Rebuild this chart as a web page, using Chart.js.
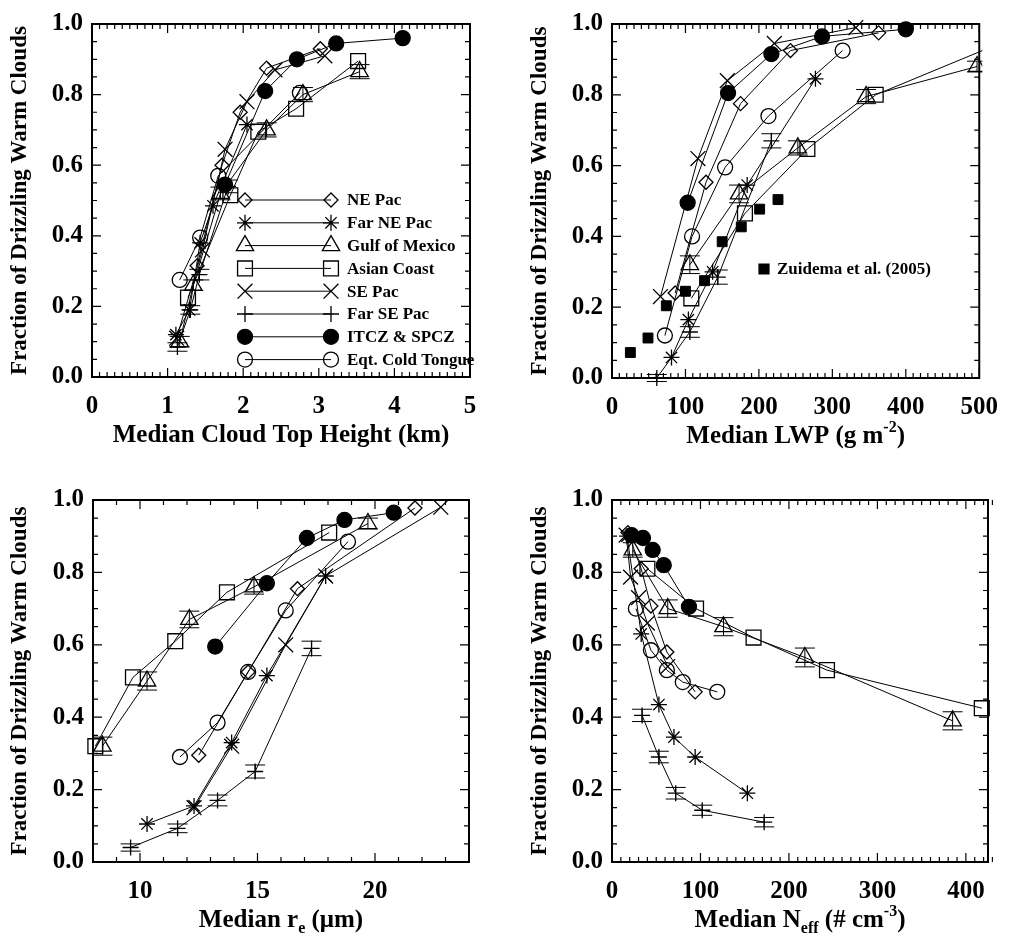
<!DOCTYPE html>
<html>
<head>
<meta charset="utf-8">
<title>Drizzle fraction vs cloud properties</title>
<script src="https://cdn.jsdelivr.net/npm/chart.js@4.4.1/dist/chart.umd.min.js"></script>
<style>
  body { margin: 0; background: #fff; }
  #wrap { position: relative; width: 1013px; height: 939px; }
  canvas { position: absolute; }
</style>
</head>
<body>
<div id="wrap">
  <canvas id="c1" width="506" height="470" style="left:0;top:0"></canvas>
  <canvas id="c2" width="493" height="470" style="left:520px;top:0"></canvas>
  <canvas id="c3" width="506" height="469" style="left:0;top:470px"></canvas>
  <canvas id="c4" width="493" height="469" style="left:520px;top:470px"></canvas>
</div>
<script>
var regions = ['NE Pac', 'Far NE Pac', 'Gulf of Mexico', 'Asian Coast', 'SE Pac', 'Far SE Pac', 'ITCZ & SPCZ', 'Eqt. Cold Tongue'];

// median cloud top height (km)
var cthX = [
  [1.39, 1.72, 1.96, 2.31, 3.02],
  [1.11, 1.29, 1.43, 1.60, 2.05],
  [1.16, 1.34, 1.70, 2.31, 2.79, 3.54],
  [1.27, 1.83, 2.20, 2.70, 3.52],
  [1.12, 1.46, 1.76, 2.05, 2.42, 3.08],
  [1.13, 1.30, 1.42, 1.80],
  [1.76, 2.29, 2.71, 3.23, 4.11],
  [1.16, 1.43, 1.67, 2.75]
];
var cthY = [
  [0.315, 0.60, 0.75, 0.875, 0.93],
  [0.12, 0.19, 0.38, 0.485, 0.715],
  [0.10, 0.26, 0.52, 0.70, 0.80, 0.865],
  [0.225, 0.515, 0.695, 0.76, 0.895],
  [0.11, 0.36, 0.645, 0.78, 0.87, 0.91],
  [0.085, 0.19, 0.29, 0.54],
  [0.545, 0.81, 0.90, 0.945, 0.96],
  [0.275, 0.395, 0.57, 0.805]
];
var cthErr = [null, null, [0.015, 0.015, 0.018, 0.02, 0.02, 0.02], null, null, [0.012, 0.012, 0.015, 0.018], null, null];

// median liquid water path (g m-2)
var lwpX = [
  [86, 128, 175, 243, 363],
  [81, 104, 137, 184, 277],
  [106, 173, 253, 346, 497],
  [108, 181, 266, 359, 580],
  [66, 117, 157, 221, 332],
  [61, 106, 144, 217],
  [103, 158, 217, 286, 400],
  [72, 109, 154, 213, 314]
];
var lwpY = [
  [0.24, 0.553, 0.775, 0.925, 0.975],
  [0.058, 0.165, 0.30, 0.545, 0.845],
  [0.32, 0.52, 0.65, 0.795, 0.88],
  [0.225, 0.465, 0.647, 0.80, 0.99],
  [0.23, 0.62, 0.84, 0.945, 0.99],
  [0.0, 0.13, 0.285, 0.67],
  [0.495, 0.805, 0.915, 0.965, 0.985],
  [0.12, 0.40, 0.595, 0.74, 0.925]
];
var lwpErr = [null, null, [0.025, 0.025, 0.02, 0.02, 0.015], null, null, [0.01, 0.015, 0.02, 0.02], null, null];

// Zuidema et al. (2005) drizzle fraction vs LWP
var zuidemaLwp = [25, 49, 74, 100, 126, 150, 176, 201, 226];
var zuidemaFrac = [0.072, 0.113, 0.204, 0.245, 0.275, 0.385, 0.427, 0.477, 0.504];

// median effective radius (um)
var reX = [
  [12.5, 14.6, 16.7, 21.7],
  [10.3, 12.3, 13.9, 15.4, 17.9],
  [8.4, 10.3, 12.1, 14.85, 19.7],
  [8.1, 9.7, 11.5, 13.7, 18.05],
  [12.3, 13.9, 16.2, 17.9, 22.8],
  [9.6, 11.6, 13.3, 14.9, 17.3],
  [13.2, 15.4, 17.1, 18.7, 20.8],
  [11.7, 13.3, 14.6, 16.2, 18.85]
];
var reY = [
  [0.295, 0.525, 0.755, 0.978],
  [0.105, 0.155, 0.33, 0.515, 0.79],
  [0.32, 0.50, 0.67, 0.76, 0.935],
  [0.32, 0.51, 0.61, 0.745, 0.91],
  [0.15, 0.32, 0.60, 0.79, 0.98],
  [0.04, 0.093, 0.17, 0.25, 0.59],
  [0.595, 0.77, 0.895, 0.945, 0.965],
  [0.29, 0.385, 0.525, 0.695, 0.885]
];
var reErr = [null, null, [0.025, 0.025, 0.023, 0.02, 0.015], null, null, [0.01, 0.012, 0.015, 0.018, 0.02], null, null];

// median effective droplet number (# cm-3)
var neffX = [
  [18, 33, 44, 62, 94],
  [17, 33, 53, 70, 94, 153],
  [23.5, 63, 126, 218, 385],
  [40, 95, 160, 243, 418],
  [16, 21, 30, 40, 63],
  [34, 53, 72, 102, 172],
  [22, 35, 46, 58.5, 87],
  [27, 44, 62, 80, 119]
];
var neffY = [
  [0.91, 0.81, 0.707, 0.58, 0.47],
  [0.90, 0.63, 0.435, 0.345, 0.29, 0.19],
  [0.862, 0.70, 0.65, 0.565, 0.39],
  [0.81, 0.70, 0.62, 0.53, 0.425],
  [0.903, 0.787, 0.73, 0.66, 0.54],
  [0.405, 0.29, 0.19, 0.143, 0.11],
  [0.903, 0.895, 0.862, 0.82, 0.705],
  [0.70, 0.585, 0.53, 0.497, 0.47]
];
var neffErr = [null, null, [0.02, 0.024, 0.025, 0.026, 0.025], null, null, [0.017, 0.016, 0.016, 0.014, 0.013], null, null];

// plot symbols, one per region (IDL-like)
var symbols = [
  { style: 'rectRot', r: 7, solid: false },
  { style: 'star', r: 8, solid: false },
  { style: 'triangle', r: 10, solid: false },
  { style: 'rect', r: 10.5, solid: false },
  { style: 'crossRot', r: 10.5, solid: false },
  { style: 'cross', r: 8, solid: false },
  { style: 'circle', r: 7.5, solid: true },
  { style: 'circle', r: 7.5, solid: false }
];

var SERIF = '"Liberation Serif", "Times New Roman", serif';
var tickFont = { family: SERIF, size: 25, weight: 'bold' };
var dataClip = { left: 12, top: 12, right: 3, bottom: 12 };

function buildSets(xs, ys, errs) {
  return regions.map(function (name, i) {
    var pts = xs[i].map(function (x, j) { return { x: x, y: ys[i][j] }; });
    var s = symbols[i];
    return {
      label: name,
      data: pts,
      err: errs[i],
      showLine: true,
      clip: dataClip,
      borderColor: '#000',
      borderWidth: 1,
      pointStyle: s.style,
      pointRadius: s.r,
      pointBorderWidth: 1.3,
      pointBorderColor: '#000',
      pointBackgroundColor: s.solid ? '#000' : 'rgba(0,0,0,0)'
    };
  });
}

function mark(ctx, sym, x, y) {
  ctx.save();
  ctx.strokeStyle = '#000';
  ctx.fillStyle = sym.solid ? '#000' : 'rgba(0,0,0,0)';
  ctx.lineWidth = 1.3;
  Chart.helpers.drawPoint(ctx, { pointStyle: sym.style, radius: sym.r, rotation: 0, borderWidth: 1.3 }, x, y);
  ctx.restore();
}

// text with super/subscript pieces, centred on cx
function richText(ctx, parts, cx, y) {
  var fonts = { '0': 'bold 25px ' + SERIF, '1': 'bold 16px ' + SERIF, '-1': 'bold 16px ' + SERIF };
  var total = 0;
  parts.forEach(function (p) { ctx.font = fonts[p[1]]; total += ctx.measureText(p[0]).width; });
  var x = cx - total / 2;
  ctx.textAlign = 'left';
  ctx.textBaseline = 'alphabetic';
  parts.forEach(function (p) {
    ctx.font = fonts[p[1]];
    var dy = p[1] > 0 ? -11 : (p[1] < 0 ? 6 : 0);
    ctx.fillText(p[0], x, y + dy);
    x += ctx.measureText(p[0]).width;
  });
}

function tickRow(ctx, scale, lo, hi, minor, major, horiz, a) {
  var n = Math.round((hi - lo) / minor);
  for (var k = 0; k <= n; k++) {
    var v = lo + k * minor;
    var q = v / major;
    var len = Math.abs(q - Math.round(q)) < 1e-6 ? 9 : 5;
    var p = scale.getPixelForValue(v);
    ctx.beginPath();
    if (horiz) {
      ctx.moveTo(p, a.bottom); ctx.lineTo(p, a.bottom - len);
      ctx.moveTo(p, a.top); ctx.lineTo(p, a.top + len);
    } else {
      ctx.moveTo(a.left, p); ctx.lineTo(a.left + len, p);
      ctx.moveTo(a.right, p); ctx.lineTo(a.right - len, p);
    }
    ctx.stroke();
  }
}

function makePanel(id, cfg) {
  var cv = document.getElementById(id);
  var W = cv.width, H = cv.height, box = cfg.area;

  var deco = {
    id: 'deco',
    afterDraw: function (chart) {
      var ctx = chart.ctx, a = chart.chartArea;
      var xs = chart.scales.x, ys = chart.scales.y;
      ctx.save();
      ctx.strokeStyle = '#000';
      ctx.fillStyle = '#000';

      // error bars
      ctx.save();
      ctx.beginPath();
      ctx.rect(a.left - 12, a.top - 12, a.width + 15, a.height + 24);
      ctx.clip();
      ctx.lineWidth = 1;
      chart.data.datasets.forEach(function (ds) {
        if (!ds.err) return;
        ds.data.forEach(function (p, i) {
          var px = xs.getPixelForValue(p.x);
          var hi = ys.getPixelForValue(p.y + ds.err[i]);
          var lo = ys.getPixelForValue(p.y - ds.err[i]);
          ctx.beginPath();
          ctx.moveTo(px, hi); ctx.lineTo(px, lo);
          ctx.moveTo(px - 10, hi); ctx.lineTo(px + 10, hi);
          ctx.moveTo(px - 10, lo); ctx.lineTo(px + 10, lo);
          ctx.stroke();
        });
      });
      ctx.restore();

      // frame and inward ticks on all four sides
      ctx.lineWidth = 2;
      ctx.strokeRect(a.left, a.top, a.width, a.height);
      ctx.lineWidth = 1.2;
      tickRow(ctx, xs, cfg.xmin, cfg.xmax, cfg.xminor, cfg.xstep, true, a);
      tickRow(ctx, ys, 0, 1, 0.05, 0.2, false, a);

      // axis titles
      richText(ctx, cfg.xtitle, (a.left + a.right) / 2, a.bottom + 65);
      ctx.save();
      ctx.translate(20, (a.top + a.bottom) / 2);
      ctx.rotate(-Math.PI / 2);
      ctx.font = 'bold 23px ' + SERIF;
      ctx.textAlign = 'center';
      ctx.textBaseline = 'middle';
      ctx.fillText('Fraction of Drizzling Warm Clouds', 0, 0);
      ctx.restore();

      if (cfg.legend) cfg.legend(ctx);
      ctx.restore();
    }
  };

  return new Chart(cv.getContext('2d'), {
    type: 'scatter',
    data: { datasets: cfg.sets },
    options: {
      responsive: false,
      animation: false,
      events: [],
      layout: { padding: { left: 0, top: box[1], right: W - box[2], bottom: 0 } },
      plugins: { legend: { display: false }, tooltip: { enabled: false } },
      scales: {
        x: {
          type: 'linear',
          min: cfg.xmin,
          max: cfg.xmax,
          grid: { display: false, drawTicks: false },
          border: { display: false },
          ticks: {
            stepSize: cfg.xstep, includeBounds: false, autoSkip: false, maxRotation: 0,
            padding: 15, color: '#000', font: tickFont
          },
          afterFit: function (s) { s.height = H - box[3]; }
        },
        y: {
          min: 0,
          max: 1,
          grid: { display: false, drawTicks: false },
          border: { display: false },
          ticks: {
            stepSize: 0.2, padding: 9, color: '#000', font: tickFont,
            callback: function (v) { return v.toFixed(1); }
          },
          afterFit: function (s) { s.width = box[0]; }
        }
      }
    },
    plugins: [deco]
  });
}

// legend of the regions (top-left panel)
function regionLegend(ctx) {
  ctx.font = 'bold 17px ' + SERIF;
  ctx.textAlign = 'left';
  ctx.textBaseline = 'middle';
  regions.forEach(function (name, i) {
    var y = 200 + i * 22.8;
    ctx.lineWidth = 1;
    ctx.beginPath();
    ctx.moveTo(245, y); ctx.lineTo(331, y);
    ctx.stroke();
    mark(ctx, symbols[i], 245, y);
    mark(ctx, symbols[i], 331, y);
    ctx.fillText(name, 347, y + 1);
  });
}

function zuidemaLegend(ctx) {
  mark(ctx, { style: 'rect', r: 7, solid: true }, 244, 269);
  ctx.font = 'bold 17px ' + SERIF;
  ctx.textAlign = 'left';
  ctx.textBaseline = 'middle';
  ctx.fillText('Zuidema et al. (2005)', 257, 270);
}

var lwpSets = buildSets(lwpX, lwpY, lwpErr);
lwpSets.push({
  label: 'Zuidema et al. (2005)',
  data: zuidemaLwp.map(function (x, j) { return { x: x, y: zuidemaFrac[j] }; }),
  showLine: false,
  clip: dataClip,
  pointStyle: 'rect',
  pointRadius: 7,
  pointBorderWidth: 1,
  pointBorderColor: '#000',
  pointBackgroundColor: '#000'
});

makePanel('c1', {
  area: [92, 15, 470, 377],
  xmin: 0, xmax: 5, xstep: 1, xminor: 0.1,
  xtitle: [['Median Cloud Top Height (km)', 0]],
  sets: buildSets(cthX, cthY, cthErr),
  legend: regionLegend
});

makePanel('c2', {
  area: [92, 15, 468, 378],
  xmin: 0, xmax: 500, xstep: 100, xminor: 10,
  xtitle: [['Median LWP (g m', 0], ['-2', 1], [')', 0]],
  sets: lwpSets,
  legend: zuidemaLegend
});

makePanel('c3', {
  area: [93, 30, 469, 392],
  xmin: 8, xmax: 24, xstep: 5, xminor: 1,
  xtitle: [['Median r', 0], ['e', -1], [' (\u03bcm)', 0]],
  sets: buildSets(reX, reY, reErr)
});

makePanel('c4', {
  area: [92, 30, 468, 392],
  xmin: 0, xmax: 425, xstep: 100, xminor: 10,
  xtitle: [['Median N', 0], ['eff', -1], [' (# cm', 0], ['-3', 1], [')', 0]],
  sets: buildSets(neffX, neffY, neffErr)
});
</script>
</body>
</html>
